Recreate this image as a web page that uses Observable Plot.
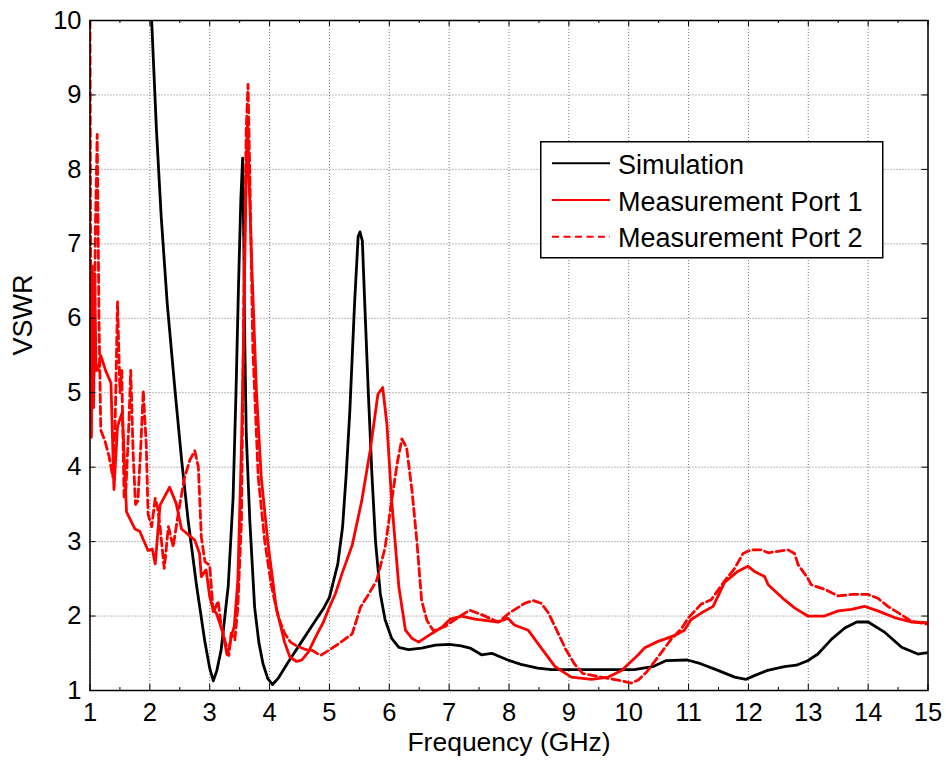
<!DOCTYPE html>
<html>
<head>
<meta charset="utf-8">
<script src="https://cdn.jsdelivr.net/npm/d3@7"></script>
<script src="https://cdn.jsdelivr.net/npm/@observablehq/plot@0.6"></script>
<style>
  body { margin: 0; background: white; }
  #wrap { position: relative; width: 946px; height: 760px; font-family: 'Liberation Sans', Arial, sans-serif; }
  #legend { position: absolute; left: 540px; top: 141px; }
</style>
</head>
<body>
<div id="wrap"></div>
<script>
// ---- data ----
const xTicks = [1,2,3,4,5,6,7,8,9,10,11,12,13,14,15];
const xMinorTicks = [1.5,2.5,3.5,4.5,5.5,6.5,7.5,8.5,9.5,10.5,11.5,12.5,13.5,14.5];
const yTicks = [1,2,3,4,5,6,7,8,9,10];
const seriesNames = ["Simulation", "Measurement Port 1", "Measurement Port 2"];

const simFreq = [1.97,2.03,2.11,2.19,2.29,2.42,2.53,2.64,2.78,2.92,3.0,3.06,3.12,3.19,3.31,3.39,3.44,3.48,3.5,3.52,3.55,3.57,3.58,3.61,3.67,3.75,3.82,3.89,3.97,4.05,4.15,4.31,4.53,4.75,4.9,5.0,5.14,5.22,5.28,5.34,5.42,5.48,5.51,5.55,5.59,5.65,5.71,5.77,5.85,5.93,6.04,6.16,6.32,6.54,6.77,7.0,7.2,7.35,7.54,7.71,7.98,8.2,8.48,8.71,9.5,10.09,10.4,10.62,10.98,11.2,11.49,11.77,11.96,12.1,12.32,12.6,12.8,12.99,13.16,13.39,13.61,13.81,14.0,14.28,14.56,14.83,15.0];
const simVswr = [10.4,10.0,8.53,7.36,6.2,5.03,4.1,3.28,2.41,1.65,1.3,1.13,1.27,1.54,2.41,3.58,5.03,6.4,7.0,7.6,8.15,7.0,6.0,4.45,3.28,2.12,1.65,1.36,1.16,1.08,1.17,1.38,1.65,1.92,2.1,2.25,2.7,3.2,3.9,4.74,6.2,7.1,7.16,7.04,6.2,5.0,3.9,3.0,2.3,1.95,1.7,1.58,1.55,1.57,1.61,1.62,1.6,1.57,1.48,1.5,1.41,1.35,1.3,1.28,1.28,1.28,1.32,1.4,1.41,1.36,1.27,1.18,1.15,1.2,1.27,1.32,1.34,1.4,1.49,1.69,1.84,1.92,1.92,1.78,1.58,1.49,1.51];

const port1Freq = [1.0,1.02,1.04,1.06,1.08,1.1,1.13,1.18,1.26,1.35,1.4,1.46,1.54,1.61,1.75,1.83,1.97,2.04,2.09,2.17,2.33,2.44,2.53,2.75,2.83,2.86,2.94,3.0,3.06,3.11,3.17,3.22,3.29,3.33,3.36,3.41,3.47,3.53,3.56,3.58,3.61,3.63,3.66,3.7,3.78,3.86,3.97,4.11,4.25,4.34,4.45,4.54,4.65,4.77,4.9,5.0,5.1,5.21,5.38,5.54,5.68,5.81,5.89,5.96,6.04,6.16,6.27,6.38,6.49,6.66,6.88,7.02,7.21,7.43,7.82,7.98,8.09,8.32,8.54,8.77,9.04,9.38,9.66,9.88,10.04,10.16,10.26,10.49,10.6,10.77,10.93,11.04,11.21,11.41,11.6,11.82,11.99,12.1,12.27,12.33,12.6,12.77,12.99,13.27,13.5,13.72,13.94,14.16,14.44,14.72,15.0];
const port1Vswr = [6.0,4.4,6.7,5.0,6.6,5.3,5.3,5.5,5.3,5.13,3.7,4.55,4.74,3.4,3.17,3.14,2.88,2.9,2.7,3.49,3.73,3.51,3.17,3.02,2.84,2.53,2.62,2.26,2.08,2.04,1.9,1.77,1.48,1.59,1.73,1.86,2.48,4.27,5.5,6.5,7.94,8.6,7.8,6.78,5.03,3.87,3.0,2.12,1.65,1.45,1.39,1.41,1.52,1.72,1.92,2.12,2.3,2.57,2.95,3.55,4.22,4.98,5.07,4.58,3.55,2.39,1.81,1.7,1.65,1.74,1.85,1.96,2.0,1.96,1.92,1.97,1.88,1.81,1.57,1.32,1.18,1.15,1.18,1.27,1.39,1.48,1.57,1.66,1.69,1.74,1.81,1.95,2.04,2.13,2.45,2.6,2.67,2.6,2.53,2.42,2.22,2.11,2.0,2.0,2.07,2.09,2.13,2.07,1.98,1.92,1.91];

const port2Freq = [1.0,1.01,1.02,1.04,1.06,1.09,1.12,1.15,1.18,1.25,1.32,1.38,1.42,1.46,1.5,1.53,1.57,1.6,1.65,1.68,1.72,1.76,1.8,1.85,1.89,1.94,1.97,2.03,2.09,2.13,2.17,2.24,2.31,2.39,2.44,2.5,2.58,2.67,2.75,2.81,2.86,2.92,3.0,3.06,3.14,3.19,3.26,3.32,3.36,3.42,3.47,3.53,3.57,3.61,3.64,3.67,3.72,3.81,3.92,4.03,4.14,4.25,4.35,4.45,4.6,4.71,4.85,4.99,5.16,5.38,5.52,5.66,5.79,5.93,6.04,6.13,6.21,6.29,6.38,6.46,6.54,6.63,6.74,6.93,7.15,7.34,7.54,7.82,8.04,8.26,8.4,8.54,8.66,8.82,8.95,9.1,9.23,9.54,9.82,10.04,10.16,10.3,10.49,10.71,10.88,10.99,11.21,11.38,11.6,11.77,11.91,12.05,12.21,12.33,12.49,12.66,12.77,12.83,12.99,13.05,13.27,13.5,13.72,14.0,14.16,14.33,14.55,14.72,15.0];
const port2Vswr = [10.0,7.0,4.4,6.6,4.8,7.2,8.47,6.0,4.5,4.35,4.14,3.87,4.6,6.22,5.0,5.3,3.6,3.7,4.6,5.3,4.2,3.5,3.55,4.3,5.03,4.3,3.37,3.2,3.58,3.45,3.2,2.64,3.2,2.93,3.2,3.5,3.86,4.1,4.22,4.0,3.06,2.73,2.68,2.04,2.2,1.88,1.65,1.47,1.77,1.68,2.12,3.28,6.2,8.53,9.14,7.94,5.61,3.87,3.0,2.41,2.0,1.77,1.65,1.6,1.55,1.54,1.47,1.54,1.63,1.76,2.12,2.3,2.48,2.92,3.55,4.04,4.38,4.26,3.68,3.01,2.21,1.94,1.8,1.86,1.98,2.08,2.02,1.92,2.06,2.17,2.21,2.17,2.04,1.77,1.55,1.35,1.23,1.18,1.14,1.1,1.14,1.25,1.45,1.69,1.83,1.97,2.16,2.22,2.47,2.64,2.84,2.89,2.89,2.85,2.87,2.89,2.84,2.69,2.51,2.42,2.36,2.27,2.29,2.29,2.24,2.13,2.02,1.93,1.89];

const toRows = (fs, vs) => fs.map((f, i) => ({f, v: vs[i]}));
const simRows = toRows(simFreq, simVswr);
const p1Rows = toRows(port1Freq, port1Vswr);
const p2Rows = toRows(port2Freq, port2Vswr);

// ---- layout ----
const W = 946, H = 760;
const mL = 89.5, mR = 18.5, mT = 20, mB = 70;
const plotW = W - mL - mR, plotH = H - mT - mB;
const majorLen = 6, minorLen = 3;

const chart = Plot.plot({
  width: W, height: H,
  marginLeft: mL, marginRight: mR, marginTop: mT, marginBottom: mB,
  x: {domain: [1, 15]},
  y: {domain: [1, 10]},
  style: {fontFamily: "'Liberation Sans', Arial, sans-serif", fontSize: "25.5px", color: "black", background: "white", overflow: "visible"},
  marks: [
    Plot.gridX(xTicks, {stroke: "#555", strokeOpacity: 1, strokeWidth: 0.8, strokeDasharray: "1,2"}),
    Plot.gridY(yTicks, {stroke: "#555", strokeOpacity: 1, strokeWidth: 0.8, strokeDasharray: "1,2"}),
    Plot.line(simRows, {x: "f", y: "v", stroke: "black", strokeWidth: 2.8, clip: true}),
    Plot.line(p1Rows, {x: "f", y: "v", stroke: "#ff0000", strokeWidth: 2.8, clip: true}),
    Plot.line(p2Rows, {x: "f", y: "v", stroke: "#ff0000", strokeWidth: 2.8, strokeDasharray: "8,4", clip: true}),
    // inward ticks
    Plot.tickX(xTicks, {x: d => d, stroke: "black", strokeWidth: 1, insetTop: plotH - majorLen}),
    Plot.tickX(xTicks, {x: d => d, stroke: "black", strokeWidth: 1, insetBottom: plotH - majorLen}),
    Plot.tickX(xMinorTicks, {x: d => d, stroke: "black", strokeWidth: 1, insetTop: plotH - minorLen}),
    Plot.tickX(xMinorTicks, {x: d => d, stroke: "black", strokeWidth: 1, insetBottom: plotH - minorLen}),
    Plot.tickY(yTicks, {y: d => d, stroke: "black", strokeWidth: 1, insetRight: plotW - majorLen}),
    Plot.tickY(yTicks, {y: d => d, stroke: "black", strokeWidth: 1, insetLeft: plotW - majorLen}),
    Plot.axisX(xTicks, {tickSize: 0, tickPadding: 12.5, label: null, tickFormat: d => String(d)}),
    Plot.axisY(yTicks, {tickSize: 0, tickPadding: 8.5, label: null, tickFormat: d => String(d)}),
    Plot.frame({stroke: "black", strokeWidth: 1.5}),
    Plot.text(["Frequency (GHz)"], {text: d => d, frameAnchor: "bottom", lineAnchor: "top", dy: 42, fontSize: 26.5}),
    Plot.text(["VSWR"], {text: d => d, frameAnchor: "left", rotate: -90, dx: -66.5, fontSize: 27})
  ]
});

const wrap = document.getElementById("wrap");
wrap.appendChild(chart);

// ---- legend ----
const ns = "http://www.w3.org/2000/svg";
const leg = document.createElementNS(ns, "svg");
leg.setAttribute("id", "legend");
leg.setAttribute("width", 344);
leg.setAttribute("height", 118);
const box = document.createElementNS(ns, "rect");
box.setAttribute("x", 0.75); box.setAttribute("y", 0.75);
box.setAttribute("width", 342); box.setAttribute("height", 116);
box.setAttribute("fill", "white"); box.setAttribute("stroke", "black"); box.setAttribute("stroke-width", 1.5);
leg.appendChild(box);
const legStyles = [
  {stroke: "black", dash: null},
  {stroke: "#ff0000", dash: null},
  {stroke: "#ff0000", dash: "7,4.5"}
];
const rowY = [22.3, 59, 95.7];
seriesNames.forEach((name, i) => {
  const ln = document.createElementNS(ns, "line");
  ln.setAttribute("x1", 12); ln.setAttribute("x2", 70);
  ln.setAttribute("y1", rowY[i]); ln.setAttribute("y2", rowY[i]);
  ln.setAttribute("stroke", legStyles[i].stroke);
  ln.setAttribute("stroke-width", 2);
  if (legStyles[i].dash) ln.setAttribute("stroke-dasharray", legStyles[i].dash);
  leg.appendChild(ln);
  const tx = document.createElementNS(ns, "text");
  tx.setAttribute("x", 78); tx.setAttribute("y", rowY[i] + 10.5);
  tx.setAttribute("font-size", 27);
  tx.setAttribute("font-family", "'Liberation Sans', Arial, sans-serif");
  tx.setAttribute("fill", "black");
  tx.textContent = name;
  leg.appendChild(tx);
});
wrap.appendChild(leg);
</script>
</body>
</html>
